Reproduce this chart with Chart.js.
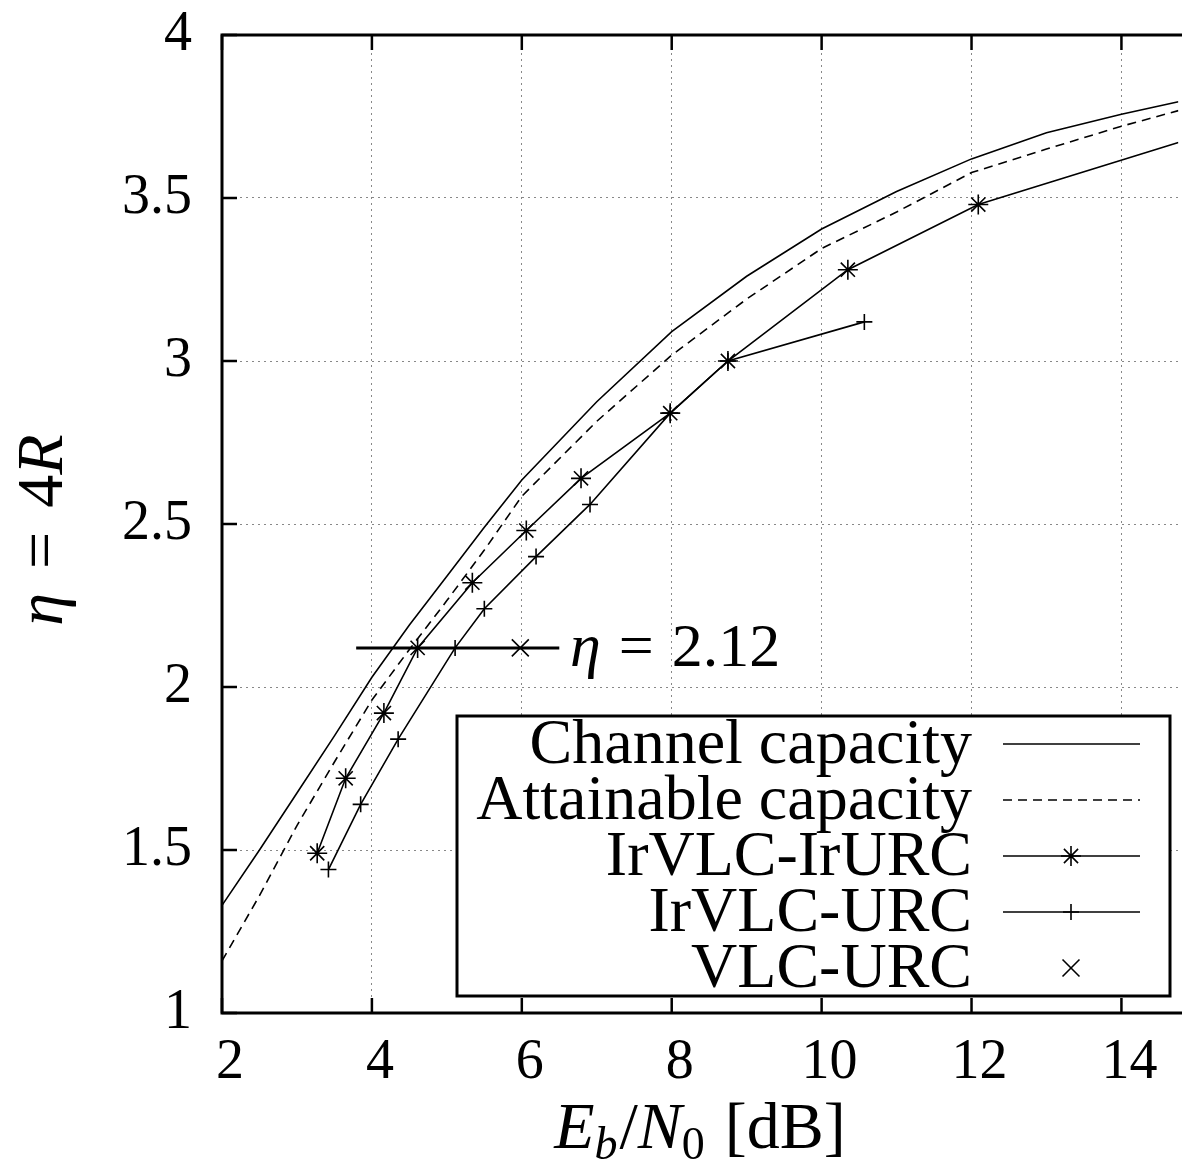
<!DOCTYPE html>
<html><head><meta charset="utf-8">
<script src="https://cdn.jsdelivr.net/npm/chart.js@4.4.0/dist/chart.umd.min.js"></script>
<style>html,body{margin:0;padding:0;background:#fff;overflow:hidden}#wrap{width:1182px;height:1169px;position:relative;overflow:hidden}</style>
</head><body><div id="wrap"><canvas id="c" width="1192" height="1169"></canvas></div>
<script>
// ---- data ----
const capX = [2, 2.5, 3, 3.5, 4, 4.5, 5, 5.5, 6, 7, 8, 9, 10, 11, 12, 13, 14, 14.76];
const capY = [1.33, 1.50, 1.675, 1.85, 2.03, 2.19, 2.34, 2.49, 2.635, 2.875, 3.09, 3.26, 3.405, 3.52, 3.62, 3.70, 3.757, 3.795];
const attX = [2, 2.5, 3, 3.5, 4, 4.5, 5, 5.5, 6, 7, 8, 9, 10, 11, 12, 13, 14, 14.76];
const attY = [1.16, 1.36, 1.575, 1.77, 1.96, 2.115, 2.265, 2.42, 2.585, 2.815, 3.018, 3.19, 3.345, 3.457, 3.578, 3.65, 3.72, 3.768];
const irIrX = [3.27, 3.65, 4.16, 4.61, 5.34, 6.06, 6.79, 7.98, 8.75, 10.35, 12.09, 14.76];
const irIrY = [1.49, 1.72, 1.92, 2.12, 2.32, 2.48, 2.64, 2.84, 3.00, 3.28, 3.48, 3.67];
const irUX = [3.42, 3.85, 4.35, 5.11, 5.50, 6.19, 6.91, 7.98, 8.75, 10.57];
const irUY = [1.44, 1.64, 1.84, 2.12, 2.24, 2.40, 2.56, 2.84, 3.00, 3.12];
const vlcX = [5.98];
const vlcY = [2.12];
const thrX = [3.79, 6.50];
const thrY = [2.12, 2.12];
const seriesNames = ['Channel capacity', 'Attainable capacity', 'IrVLC-IrURC', 'IrVLC-URC', 'VLC-URC'];
const xTickStep = 2, xMin = 2, xMax = 14.76;
const yTickStep = 0.5, yMin = 1, yMax = 4;

const pts = (xs, ys) => xs.map((x, i) => ({x, y: ys[i]}));
const SERIF = '"Liberation Serif", "DejaVu Serif", serif';

const datasets = [
  {label: seriesNames[0], data: pts(capX, capY), borderColor: '#000', borderWidth: 1.6, pointRadius: 0, tension: 0},
  {label: seriesNames[1], data: pts(attX, attY), borderColor: '#000', borderWidth: 1.6, borderDash: [9, 6], pointRadius: 0, tension: 0},
  {label: seriesNames[2], data: pts(irIrX, irIrY), borderColor: '#000', borderWidth: 1.6, pointStyle: 'star',
   pointRadius: irIrX.map((x, i) => i === irIrX.length - 1 ? 0 : 10), pointBorderWidth: 1.6, pointBackgroundColor: '#000', pointBorderColor: '#000', tension: 0},
  {label: seriesNames[3], data: pts(irUX, irUY), borderColor: '#000', borderWidth: 1.6, pointStyle: 'cross', pointRadius: 8, pointBorderWidth: 1.6, pointBorderColor: '#000', tension: 0},
  {label: seriesNames[4], data: pts(vlcX, vlcY), borderColor: '#000', showLine: false, pointStyle: 'crossRot', pointRadius: 12, pointBorderWidth: 1.6, pointBorderColor: '#000'},
  {label: '', data: pts(thrX, thrY), borderColor: '#000', borderWidth: 3, pointRadius: 0, tension: 0, isThreshold: true}
];

function drawPieces(ctx, pieces, x, y, align) {
  let total = 0;
  pieces.forEach(p => { ctx.font = p.font; p.w = ctx.measureText(p.t).width + (p.gap || 0); total += p.w; });
  let cx = align === 'center' ? x - total / 2 : x;
  pieces.forEach(p => { ctx.font = p.font; ctx.fillText(p.t, cx + (p.gap || 0), y + (p.dy || 0)); cx += p.w; });
}

const decor = {
  id: 'decor',
  afterDatasetsDraw(chart) {
    const {ctx, chartArea: a, scales: {x, y}} = chart;
    ctx.save();
    // legend box
    const L = {left: 457, top: 716, right: 1170, bottom: 996};
    ctx.fillStyle = '#fff';
    ctx.fillRect(L.left, L.top, L.right - L.left, L.bottom - L.top);
    ctx.strokeStyle = '#000'; ctx.lineWidth = 3;
    ctx.strokeRect(L.left, L.top, L.right - L.left, L.bottom - L.top);
    const rowY = [744, 800, 856, 912, 968];
    let r = 0;
    chart.data.datasets.forEach(ds => {
      if (ds.isThreshold) return;
      const yy = rowY[r++];
      ctx.fillStyle = '#000';
      ctx.font = '64px ' + SERIF;
      ctx.textAlign = 'right'; ctx.textBaseline = 'middle';
      ctx.fillText(ds.label, 972, yy + 2);
      if (ds.showLine !== false) {
        ctx.save();
        ctx.lineWidth = ds.borderWidth; ctx.strokeStyle = '#000';
        ctx.setLineDash(ds.borderDash || []);
        ctx.beginPath(); ctx.moveTo(1003, yy); ctx.lineTo(1140, yy); ctx.stroke();
        ctx.restore();
      }
      if (ds.pointStyle) {
        const rad = Array.isArray(ds.pointRadius) ? ds.pointRadius[0] : ds.pointRadius;
        ctx.save();
        ctx.strokeStyle = '#000'; ctx.fillStyle = '#000'; ctx.lineWidth = ds.pointBorderWidth;
        Chart.helpers.drawPoint(ctx, {pointStyle: ds.pointStyle, radius: rad, rotation: 0, borderWidth: ds.pointBorderWidth}, 1071, yy);
        ctx.restore();
      }
    });
    // frame
    ctx.strokeStyle = '#000'; ctx.lineWidth = 3;
    ctx.beginPath();
    ctx.moveTo(a.right + 15, a.top); ctx.lineTo(a.left, a.top); ctx.lineTo(a.left, a.bottom); ctx.lineTo(a.right + 15, a.bottom);
    ctx.stroke();
    // inward ticks
    ctx.lineWidth = 2.5;
    ctx.beginPath();
    x.ticks.forEach(t => {
      const px = x.getPixelForValue(t.value);
      ctx.moveTo(px, a.bottom); ctx.lineTo(px, a.bottom - 15);
      ctx.moveTo(px, a.top); ctx.lineTo(px, a.top + 15);
    });
    y.ticks.forEach(t => {
      const py = y.getPixelForValue(t.value);
      ctx.moveTo(a.left, py); ctx.lineTo(a.left + 15, py);
    });
    ctx.stroke();
    ctx.restore();
  },
  afterDraw(chart) {
    const {ctx} = chart;
    ctx.save();
    ctx.fillStyle = '#000'; ctx.textBaseline = 'alphabetic'; ctx.textAlign = 'left';
    const N = '66px ' + SERIF, I = 'italic 66px ' + SERIF, S = '46px ' + SERIF, SI = 'italic 46px ' + SERIF;
    // x title
    drawPieces(ctx, [
      {t: 'E', font: I}, {t: 'b', font: SI, dy: 11}, {t: '/', font: N, gap: 2}, {t: 'N', font: I}, {t: '0', font: S, dy: 11},
      {t: '[dB]', font: N, gap: 20}
    ], 700, 1148, 'center');
    // y title
    ctx.save();
    ctx.translate(62, 530);
    ctx.rotate(-Math.PI / 2);
    drawPieces(ctx, [{t: 'η', font: I}, {t: '=', font: N, gap: 24}, {t: '4', font: N, gap: 24}, {t: 'R', font: I}], 0, 0, 'center');
    ctx.restore();
    // threshold label
    const N2 = '62px ' + SERIF, I2 = 'italic 62px ' + SERIF;
    drawPieces(ctx, [{t: 'η', font: I2}, {t: '=', font: N2, gap: 18}, {t: '2.12', font: N2, gap: 18}], 570, 666, 'left');
    ctx.restore();
  }
};

const zeroPad = s => { s.paddingLeft = 0; s.paddingRight = 0; s.paddingTop = 0; s.paddingBottom = 0; };

new Chart(document.getElementById('c'), {
  type: 'line',
  data: {datasets},
  options: {
    responsive: false, animation: false, devicePixelRatio: 1,
    layout: {padding: {top: 35, right: 0, left: 0, bottom: 0}},
    plugins: {legend: {display: false}, tooltip: {enabled: false}},
    scales: {
      x: {
        type: 'linear', min: xMin, max: xMax,
        afterFit: s => { s.height = 156; zeroPad(s); },
        ticks: {stepSize: xTickStep, includeBounds: false, color: '#000', font: {family: SERIF, size: 56}, padding: 17, labelOffset: 8, maxRotation: 0},
        grid: {color: '#888', lineWidth: 1, drawTicks: false},
        border: {display: false, dash: [2, 4]}
      },
      y: {
        type: 'linear', min: yMin, max: yMax,
        afterFit: s => { s.width = 222; zeroPad(s); },
        ticks: {stepSize: yTickStep, includeBounds: false, color: '#000', font: {family: SERIF, size: 56}, padding: 30,
          callback: v => String(v)},
        grid: {color: '#888', lineWidth: 1, drawTicks: false},
        border: {display: false, dash: [2, 4]}
      }
    }
  },
  plugins: [decor]
});
</script>
</body></html>
